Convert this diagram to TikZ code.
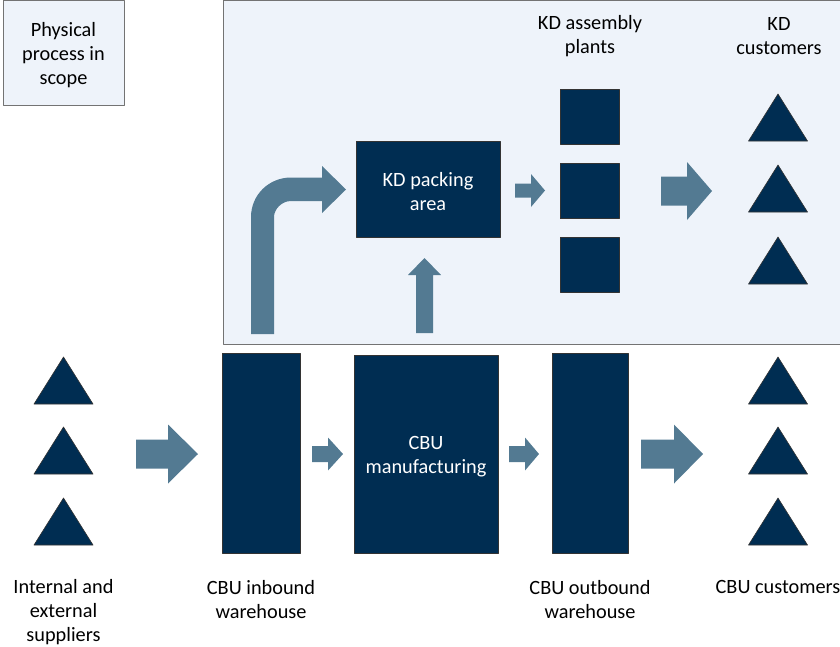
\documentclass[tikz,border=0pt]{standalone}
\usepackage{fontspec}
\setmainfont{Carlito}
\usepackage{tikz}
\usetikzlibrary{positioning}

\definecolor{navy}{HTML}{002D52}
\definecolor{flow}{HTML}{537A92}
\definecolor{scopefill}{HTML}{EEF3FA}

\newcommand{\diagfont}{\fontsize{20.3}{24}\selectfont}
% block arrow: x start, x tip, y centre, shaft half, head half, head base x
\newcommand{\blockarrow}[6]{%
\fill[flow] (#1,#3-#4) -- (#6,#3-#4) -- (#6,#3-#5) -- (#2,#3) -- (#6,#3+#5) -- (#6,#3+#4) -- (#1,#3+#4) -- cycle;}

\begin{document}
\begin{tikzpicture}[line cap=round,line join=round,x=1pt,y=-1pt,
  box/.style={fill=navy,draw=black!80,line width=0.7pt,inner sep=0pt,text=white,align=center,font=\diagfont},
  lbl/.style={align=center,font=\diagfont,inner sep=0pt},
  tri/.style={fill=navy,draw=black!80,line width=0.6pt}]
\useasboundingbox (0,0) rectangle (840,646);
% scope areas
\fill[scopefill] (223,0.5) rectangle (840,344);
\draw[color=black!55,line width=1pt] (840,0.5) -- (223,0.5) -- (223,344) -- (840,344);
\node[draw=black!55,line width=1pt,fill=scopefill,minimum width=121,minimum height=105,lbl] (legend) at (63.5,52.5) {};
\node[lbl] (legendlbl) at (63.5,55) {Physical\\process in\\scope};
% KD side
\node[box,minimum width=144,minimum height=96] (kdpack) at (428,189) {};
\node[lbl,text=white] (kdpacklbl) at (428,191.5) {KD packing\\area};
\foreach \y/\n in {116.5/1,191/2,264.5/3}
\node[box,minimum width=59,minimum height=55] (plant\n) at (589.5,\y) {};
\node[lbl] (plantlbl) at (590,36) {KD assembly\\plants};
\foreach \y in {94,165,237}
\filldraw[tri,shift={(778,\y)}] (-29.5,47) -- (0,0) -- (29.5,47) -- cycle;
\node[lbl] (kdcustlbl) at (779,36) {KD\\customers};
% CBU side
\foreach \y in {357,427,498}
\filldraw[tri,shift={(63.5,\y)}] (-29.5,47) -- (0,0) -- (29.5,47) -- cycle;
\foreach \y in {357,427,498}
\filldraw[tri,shift={(778,\y)}] (-29.5,47) -- (0,0) -- (29.5,47) -- cycle;
\node[box,minimum width=78,minimum height=200] (inbound) at (261,453) {};
\node[box,minimum width=144,minimum height=198] (mfg) at (426,454) {};
\node[lbl,text=white] (mfglbl) at (426,457) {CBU\\manufacturing};
\node[box,minimum width=76,minimum height=200] (outbound) at (590,453) {};
\node[lbl] (supplbl) at (63.5,612) {Internal and\\external\\suppliers};
\node[lbl] (inlbl) at (261,600) {CBU inbound\\warehouse};
\node[lbl] (outlbl) at (590,600) {CBU outbound\\warehouse};
\node[lbl] (custlbl) at (778,587) {CBU customers};
% flow arrows
\blockarrow{136}{198}{454}{14.5}{29.5}{168}
\blockarrow{312}{343}{454}{8}{16.5}{328}
\blockarrow{509}{539}{454}{8}{16.5}{525}
\blockarrow{641}{703}{454}{14.5}{29.5}{674}
\blockarrow{515}{545}{190.5}{7}{16.5}{531}
\blockarrow{661}{712}{191}{14.5}{29}{687}
\fill[flow] (416,333) -- (416,275) -- (408,275) -- (424.5,258) -- (441,275) -- (433,275) -- (433,333) -- cycle;
\fill[flow] (251,334) -- (251,217) .. controls (251,194.9) and (268.9,177.5) .. (291,177.5) -- (322,177.5) -- (322,166) -- (346,189.5) -- (322,213) -- (322,201) -- (291,201) .. controls (281.6,201) and (274,209.4) .. (274,217) -- (274,334) -- cycle;
\end{tikzpicture}
\end{document}
